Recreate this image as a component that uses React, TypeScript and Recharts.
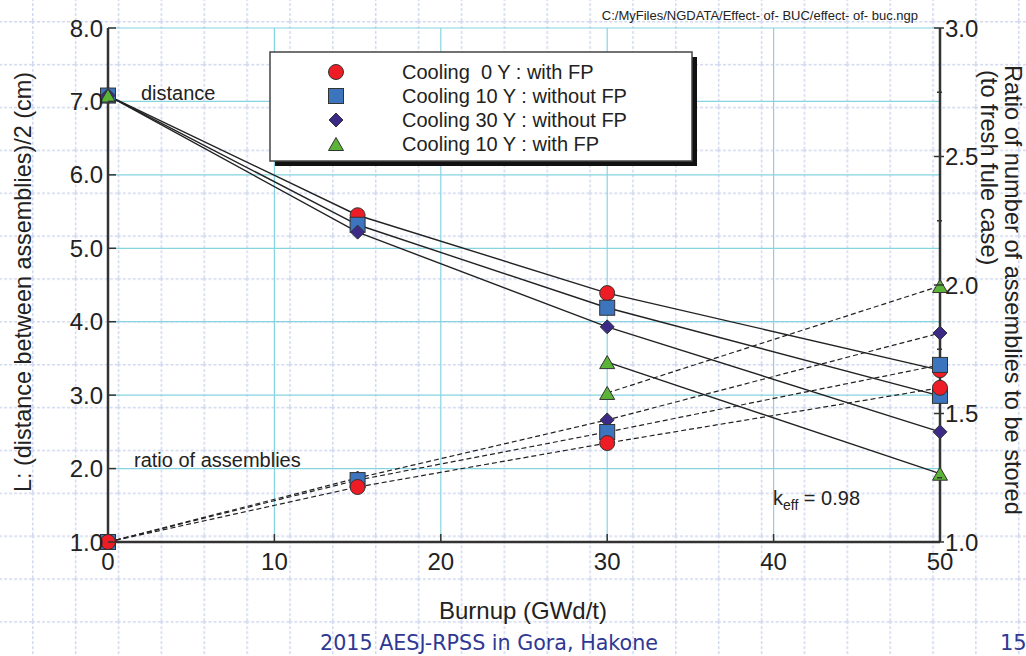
import React from 'react';
import { LineChart, Line, XAxis, YAxis, CartesianGrid } from 'recharts';

// ---------- data ----------
const burnup = [0, 15, 30, 50];
const xTicks = [0, 10, 20, 30, 40, 50];
const leftTicks = [1, 2, 3, 4, 5, 6, 7, 8];
const rightTicks = [1, 1.25, 1.5, 1.75, 2, 2.25, 2.5, 2.75, 3];

// distance L (left axis, cm)
const distCool0FP = [7.08, 5.45, 4.39, 3.34];
const distCool10 = [7.08, 5.32, 4.19, 2.99];
const distCool30 = [7.08, 5.22, 3.93, 2.5];
const distCool10FP = [7.08, null, 3.45, 1.93];
// ratio of assemblies (right axis)
const ratioCool0FP = [1.0, 1.214, 1.385, 1.6];
const ratioCool10 = [1.0, 1.241, 1.428, 1.689];
const ratioCool30 = [1.0, 1.249, 1.475, 1.813];
const ratioCool10FP = [1.0, null, 1.58, 1.996];

const legendLabels = [
  'Cooling  0 Y : with FP',
  'Cooling 10 Y : without FP',
  'Cooling 30 Y : without FP',
  'Cooling 10 Y : with FP',
];

const data = burnup.map((b, i) => ({
  burnup: b,
  d0: distCool0FP[i],
  d10: distCool10[i],
  d30: distCool30[i],
  d10fp: distCool10FP[i],
  r0: ratioCool0FP[i],
  r10: ratioCool10[i],
  r30: ratioCool30[i],
  r10fp: ratioCool10FP[i],
}));

// ---------- styles ----------
const FONT = '"Liberation Sans", Arial, sans-serif';
const RED = '#ee1c25';
const BLUE = '#3d74be';
const PURPLE = '#3c2a86';
const GREEN = '#5bb337';
const MSTROKE = '#333';
const AXIS = '#333';
const GRID = '#86d4e0';

type Shape = 'circle' | 'square' | 'diamond' | 'triangle';

function marker(shape: Shape, fill: string, cx: number, cy: number, key?: string) {
  if (shape === 'circle')
    return <circle key={key} cx={cx} cy={cy} r={7.5} fill={fill} stroke={MSTROKE} strokeWidth={1} />;
  if (shape === 'square')
    return <rect key={key} x={cx - 7.5} y={cy - 7.5} width={15} height={15} fill={fill} stroke={MSTROKE} strokeWidth={1} />;
  if (shape === 'diamond')
    return (
      <path key={key} d={`M${cx},${cy - 7}L${cx + 7},${cy}L${cx},${cy + 7}L${cx - 7},${cy}Z`} fill={fill} stroke={MSTROKE} strokeWidth={1} />
    );
  return (
    <path key={key} d={`M${cx},${cy - 6.5}L${cx + 7.5},${cy + 6.5}L${cx - 7.5},${cy + 6.5}Z`} fill={fill} stroke={MSTROKE} strokeWidth={1} />
  );
}

const dotFn = (shape: Shape, fill: string, name: string) => (props: any) => {
  const { cx, cy, index, value } = props;
  const k = `${name}-${index}`;
  if (cx == null || cy == null || value == null || isNaN(cy)) return <g key={k} />;
  return marker(shape, fill, cx, cy, k);
};

const legendShapes: Shape[] = ['circle', 'square', 'diamond', 'triangle'];
const legendColors = [RED, BLUE, PURPLE, GREEN];

// ---------- ticks ----------
const LeftTick = (props: any) => {
  const { x, y, payload } = props;
  const axisX = x + 5;
  return (
    <g>
      <line x1={axisX} x2={axisX + 8} y1={y} y2={y} stroke={AXIS} strokeWidth={1.5} />
      <text x={x} y={y} dy="0.36em" textAnchor="end" fontSize={24} fill="#222" fontFamily={FONT}>
        {Number(payload.value).toFixed(1)}
      </text>
    </g>
  );
};

const RightTick = (props: any) => {
  const { x, y, payload } = props;
  const axisX = x - 5;
  const v = Number(payload.value);
  const major = Math.abs(v * 2 - Math.round(v * 2)) < 1e-6;
  return (
    <g>
      <line x1={axisX - (major ? 6 : 3)} x2={axisX + (major ? 4 : 2)} y1={y} y2={y} stroke={AXIS} strokeWidth={1.5} />
      {major && (
        <text x={x} y={y} dy="0.36em" textAnchor="start" fontSize={24} fill="#222" fontFamily={FONT}>
          {v.toFixed(1)}
        </text>
      )}
    </g>
  );
};

const BottomTick = (props: any) => {
  const { x, y, payload } = props;
  const axisY = y - 11;
  const v = Number(payload.value);
  const inner = v > 0 && v < 50;
  return (
    <g>
      {inner && <line x1={x} x2={x} y1={axisY} y2={axisY - 8} stroke={AXIS} strokeWidth={1.5} />}
      <text x={x} y={y} dy="0.71em" textAnchor="middle" fontSize={24} fill="#222" fontFamily={FONT}>
        {v}
      </text>
    </g>
  );
};

const TopTick = (props: any) => {
  const { x, y, payload } = props;
  const v = Number(payload.value);
  if (!(v > 0 && v < 50)) return <g />;
  return <line x1={x} x2={x} y1={y} y2={y + 8} stroke={AXIS} strokeWidth={1.5} />;
};

// ---------- background ----------
const Background = () => (
  <svg width={1026} height={656} style={{ position: 'absolute', left: 0, top: 0 }}>
    <defs>
      <pattern id="bgGrid" patternUnits="userSpaceOnUse" x={32} y={21} width={42.87} height={42.87}>
        <line x1={0.75} y1={0} x2={0.75} y2={42.87} stroke="#d2d9f0" strokeWidth={1.5} strokeDasharray="3 2" />
        <line x1={0} y1={0.75} x2={42.87} y2={0.75} stroke="#d2d9f0" strokeWidth={1.5} strokeDasharray="3 2" />
      </pattern>
    </defs>
    <rect x={0} y={0} width={1026} height={656} fill="url(#bgGrid)" />
  </svg>
);

// ---------- overlay (texts + legend) ----------
const Overlay = () => (
  <svg width={1026} height={656} style={{ position: 'absolute', left: 0, top: 0, pointerEvents: 'none' }}>
    <g fontFamily={FONT} fill="#222">
      <text x={918} y={20} fontSize={13} textAnchor="end">C:/MyFiles/NGDATA/Effect- of- BUC/effect- of- buc.ngp</text>
      <text transform="translate(23,282) rotate(-90)" textAnchor="middle" dy="0.36em" fontSize={23.4}>
        L: (distance between assemblies)/2 (cm)
      </text>
      <text transform="translate(1013,65) rotate(90)" textAnchor="start" dy="0.36em" fontSize={23.6}>
        Ratio of number of assemblies to be stored
      </text>
      <text transform="translate(989,70) rotate(90)" textAnchor="start" dy="0.36em" fontSize={23.6}>
        (to fresh fule case)
      </text>
      <text x={523} y={610} textAnchor="middle" dy="0.36em" fontSize={24}>Burnup (GWd/t)</text>
      <text x={141} y={100} fontSize={20}>distance</text>
      <text x={134} y={467} fontSize={20}>ratio of assemblies</text>
      <text x={773} y={505} fontSize={20}>
        k<tspan fontSize={14} dy={5}>eff</tspan>
        <tspan dy={-5}> = 0.98</tspan>
      </text>
    </g>
    {/* legend */}
    <rect x={275} y={57} width={422} height={109} fill="#111" />
    <rect x={270} y={52} width={422} height={109} fill="#fff" stroke="#444" strokeWidth={1.5} />
    {legendLabels.map((lab, i) => (
      <g key={lab}>
        {marker(legendShapes[i], legendColors[i], 336, 72 + i * 24)}
        <text x={402} y={72 + i * 24} dy="0.36em" fontSize={20} fontFamily={FONT} fill="#222" style={{ whiteSpace: 'pre' }}>
          {lab}
        </text>
      </g>
    ))}
    <text x={320} y={650} fontSize={21} fontFamily='"DejaVu Sans", Verdana, sans-serif' fill="#2f3892" textLength={338} lengthAdjust="spacingAndGlyphs">
      2015 AESJ-RPSS in Gora, Hakone
    </text>
    <text x={1000} y={650} fontSize={21} fontFamily='"DejaVu Sans", Verdana, sans-serif' fill="#2f3892">15</text>
  </svg>
);

export default function App() {
  return (
    <div style={{ position: 'absolute', left: 0, top: 0, width: 1026, height: 656, background: '#fff', overflow: 'hidden' }}>
      <Background />
      <div style={{ position: 'absolute', left: 0, top: 0 }}>
        <LineChart width={1026} height={656} data={data} margin={{ top: 28, right: 0, bottom: 0, left: 8 }}>
          <CartesianGrid xAxisId={0} yAxisId="L" stroke={GRID} strokeWidth={1.2} fill="none" />
          <XAxis
            dataKey="burnup"
            type="number"
            domain={[0, 50]}
            ticks={xTicks}
            interval={0}
            height={114}
            tickSize={0}
            tickMargin={11}
            axisLine={{ stroke: AXIS, strokeWidth: 2.5 }}
            tickLine={false}
            tick={<BottomTick />}
          />
          <XAxis
            xAxisId="top"
            orientation="top"
            dataKey="burnup"
            type="number"
            domain={[0, 50]}
            ticks={xTicks}
            interval={0}
            height={0}
            tickSize={0}
            tickMargin={0}
            axisLine={{ stroke: '#222', strokeWidth: 2 }}
            tickLine={false}
            tick={<TopTick />}
          />
          <YAxis
            yAxisId="L"
            type="number"
            domain={[1, 8]}
            ticks={leftTicks}
            interval={0}
            width={100}
            tickSize={0}
            tickMargin={5}
            axisLine={{ stroke: AXIS, strokeWidth: 2.5 }}
            tickLine={false}
            tick={<LeftTick />}
          />
          <YAxis
            yAxisId="R"
            orientation="right"
            type="number"
            domain={[1, 3]}
            ticks={rightTicks}
            interval={0}
            width={86}
            tickSize={0}
            tickMargin={5}
            axisLine={{ stroke: AXIS, strokeWidth: 2.5 }}
            tickLine={false}
            tick={<RightTick />}
          />
          <Line yAxisId="L" dataKey="d0" stroke="#222" strokeWidth={1.4} isAnimationActive={false} connectNulls={false} dot={dotFn('circle', RED, 'd0')} activeDot={false} />
          <Line yAxisId="L" dataKey="d10" stroke="#222" strokeWidth={1.4} isAnimationActive={false} connectNulls={false} dot={dotFn('square', BLUE, 'd10')} activeDot={false} />
          <Line yAxisId="L" dataKey="d30" stroke="#222" strokeWidth={1.4} isAnimationActive={false} connectNulls={false} dot={dotFn('diamond', PURPLE, 'd30')} activeDot={false} />
          <Line yAxisId="L" dataKey="d10fp" stroke="#222" strokeWidth={1.4} isAnimationActive={false} connectNulls={false} dot={dotFn('triangle', GREEN, 'd10fp')} activeDot={false} />
          <Line yAxisId="R" dataKey="r10fp" stroke="#222" strokeWidth={1.2} strokeDasharray="5 3" isAnimationActive={false} connectNulls={false} dot={dotFn('triangle', GREEN, 'r10fp')} activeDot={false} />
          <Line yAxisId="R" dataKey="r30" stroke="#222" strokeWidth={1.2} strokeDasharray="5 3" isAnimationActive={false} connectNulls={false} dot={dotFn('diamond', PURPLE, 'r30')} activeDot={false} />
          <Line yAxisId="R" dataKey="r10" stroke="#222" strokeWidth={1.2} strokeDasharray="5 3" isAnimationActive={false} connectNulls={false} dot={dotFn('square', BLUE, 'r10')} activeDot={false} />
          <Line yAxisId="R" dataKey="r0" stroke="#222" strokeWidth={1.2} strokeDasharray="5 3" isAnimationActive={false} connectNulls={false} dot={dotFn('circle', RED, 'r0')} activeDot={false} />
        </LineChart>
      </div>
      <Overlay />
    </div>
  );
}
